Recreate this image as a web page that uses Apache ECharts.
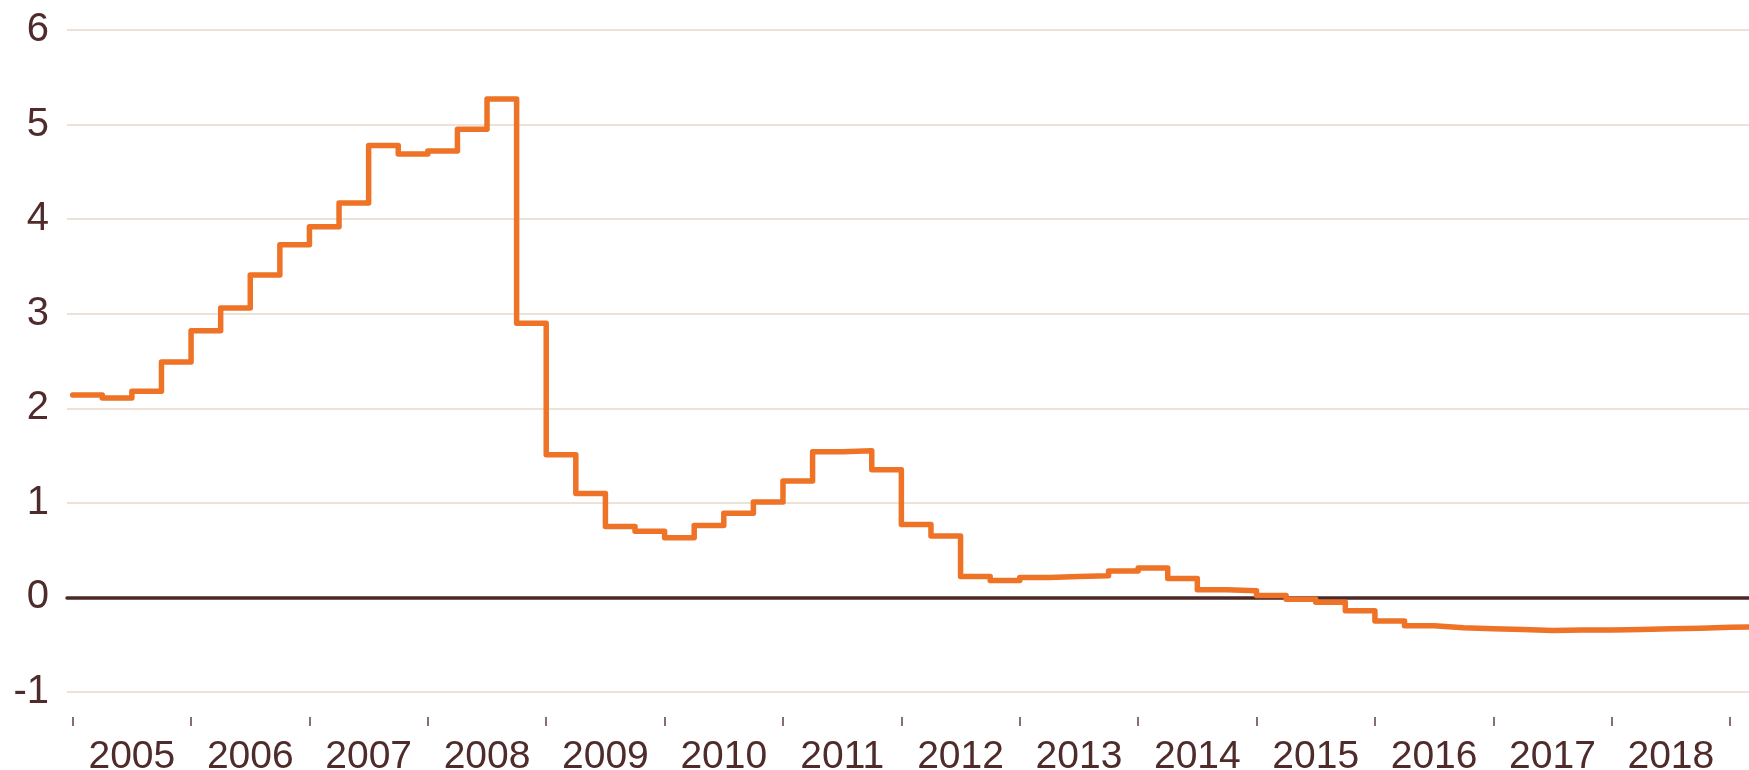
<!DOCTYPE html>
<html>
<head>
<meta charset="utf-8">
<script src="https://cdn.jsdelivr.net/npm/echarts@6/dist/echarts.min.js"></script>
<style>
  html, body { margin: 0; padding: 0; background: #fff; }
  #chart { width: 1749px; height: 770px; }
</style>
</head>
<body>
<div id="chart"></div>
<script>
// quarterly values, 2005 Q1 .. 2019 Q1
var startYear = 2005
var quarterValues = [
  2.14, 2.11, 2.18, 2.49,
  2.82, 3.06, 3.41, 3.73,
  3.92, 4.17, 4.78, 4.69,
  4.72, 4.95, 5.27, 2.90,
  1.51, 1.10, 0.75, 0.70,
  0.63, 0.76, 0.89, 1.01,
  1.23, 1.54, 1.55, 1.35,
  0.77, 0.65, 0.22, 0.18,
  0.21, 0.22, 0.23, 0.28,
  0.31, 0.20, 0.08, 0.07,
  0.02, -0.02, -0.05, -0.14,
  -0.25, -0.30, -0.32, -0.33,
  -0.34, -0.35, -0.345, -0.345,
  -0.34, -0.33, -0.325, -0.315,
  -0.31
]
var yearLabels = ['2005', '2006', '2007', '2008', '2009', '2010', '2011',
  '2012', '2013', '2014', '2015', '2016', '2017', '2018']
var yTicks = [-1, 0, 1, 2, 3, 4, 5, 6]

var textColor = '#4f2b2b'

// each quarter is one flat step, plus closing point at the end of the last one
var points = quarterValues.map(function (v, i) { return [startYear + i / 4, v] })
points.push([startYear + quarterValues.length / 4, quarterValues[quarterValues.length - 1]])

var yearTicks = yearLabels.map(function (y) { return Number(y) })
yearTicks.push(yearTicks[yearTicks.length - 1] + 1)
var labelPos = yearLabels.map(function (y) { return Number(y) + 0.5 })

var chart = echarts.init(document.getElementById('chart'))
chart.setOption({
  animation: false,
  grid: { left: 67, right: 0, top: 30, bottom: 78, outerBoundsMode: 'none' },
  xAxis: [
    {
      // zero line
      type: 'value',
      min: 2004.952,
      max: 2019.16,
      axisLine: { show: true, onZero: true, lineStyle: { color: '#4c2828', width: 3.5 } },
      axisTick: { show: false },
      axisLabel: { show: false },
      splitLine: { show: false }
    },
    {
      // year ticks and labels
      type: 'value',
      position: 'bottom',
      offset: 25,
      min: 2004.952,
      max: 2019.16,
      axisLine: { show: false },
      axisTick: {
        show: true,
        length: 9,
        customValues: yearTicks,
        lineStyle: { color: '#5e4040', width: 1.5 }
      },
      axisLabel: {
        customValues: labelPos,
        margin: 21,
        color: textColor,
        fontSize: 39,
        fontFamily: 'Liberation Sans, Arial, sans-serif',
        formatter: function (v) { return String(Math.floor(v)) }
      },
      splitLine: { show: false }
    }
  ],
  yAxis: {
    type: 'value',
    min: yTicks[0],
    max: yTicks[yTicks.length - 1],
    interval: 1,
    axisLine: { show: false },
    axisTick: { show: false },
    axisLabel: {
      margin: 18,
      color: textColor,
      fontSize: 40,
      fontFamily: 'Liberation Sans, Arial, sans-serif'
    },
    splitLine: { lineStyle: { color: '#e6d8cb', width: 1.5 } }
  },
  series: [
    {
      type: 'line',
      xAxisIndex: 0,
      step: 'end',
      data: points,
      showSymbol: false,
      clip: true,
      lineStyle: { color: '#ee7326', width: 5.5, join: 'round', cap: 'round' },
      z: 5
    }
  ]
})
</script>
</body>
</html>
